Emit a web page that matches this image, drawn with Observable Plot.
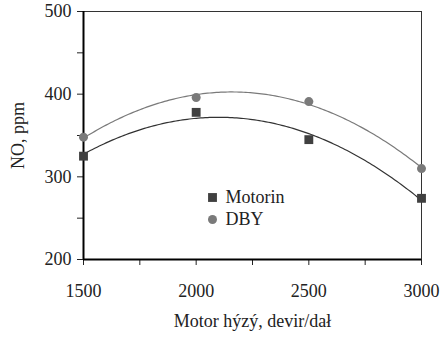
<!DOCTYPE html>
<html><head><meta charset="utf-8">
<script src="https://cdn.jsdelivr.net/npm/d3@7"></script>
<script src="https://cdn.jsdelivr.net/npm/@observablehq/plot@0.6"></script>
<style>
body{margin:0;background:#fff;}
</style></head>
<body><div id="wrap"></div>
<script>
const rpm = [1500, 2000, 2500, 3000];
const motorin = [325, 378, 345, 274];
const dby = [348, 396, 391, 310];
const xMajor = [1500, 2000, 2500, 3000];
const xMinor = [1750, 2250, 2750];
const yMajor = [200, 300, 400, 500];
const yMinor = [250, 350, 450];
const seriesNames = ["Motorin", "DBY"];
const cMot = "#404040", cDby = "#7a7a7a";
const serif = "Liberation Serif";

function quadFit(xs, ys) {
  const t = xs.map(x => (x - 2250) / 500);
  const S = k => d3.sum(t, v => v ** k);
  const T = k => d3.sum(t, (v, i) => v ** k * ys[i]);
  const A = [[S(0), S(1), S(2)], [S(1), S(2), S(3)], [S(2), S(3), S(4)]];
  const b = [T(0), T(1), T(2)];
  for (let i = 0; i < 3; i++) {
    for (let j = i + 1; j < 3; j++) {
      const f = A[j][i] / A[i][i];
      for (let k = i; k < 3; k++) A[j][k] -= f * A[i][k];
      b[j] -= f * b[i];
    }
  }
  const c = [0, 0, 0];
  for (let i = 2; i >= 0; i--) {
    let s = b[i];
    for (let k = i + 1; k < 3; k++) s -= A[i][k] * c[k];
    c[i] = s / A[i][i];
  }
  return x => { const u = (x - 2250) / 500; return c[0] + c[1] * u + c[2] * u * u; };
}
const fm = quadFit(rpm, motorin), fd = quadFit(rpm, dby);
const xs = d3.range(1500, 3000.1, 10);
const curveM = xs.map(x => ({x, y: fm(x)}));
const curveD = xs.map(x => ({x, y: fd(x)}));
const ptsM = rpm.map((x, i) => ({x, y: motorin[i]}));
const ptsD = rpm.map((x, i) => ({x, y: dby[i]}));

const legDx = 129, legDy = [186, 208];
const legend = [
  Plot.dot([0], {frameAnchor: "top-left", dx: legDx, dy: legDy[0], r: 5, symbol: "square", fill: cMot}),
  Plot.dot([0], {frameAnchor: "top-left", dx: legDx, dy: legDy[1], r: 4.5, symbol: "circle", fill: cDby}),
  Plot.text([seriesNames[0]], {frameAnchor: "top-left", text: d => d, dx: legDx + 13, dy: legDy[0], textAnchor: "start", lineAnchor: "middle", fontSize: 18, fontFamily: serif, fill: "#222"}),
  Plot.text([seriesNames[1]], {frameAnchor: "top-left", text: d => d, dx: legDx + 13, dy: legDy[1], textAnchor: "start", lineAnchor: "middle", fontSize: 18, fontFamily: serif, fill: "#222"})
];

const chart = Plot.plot({
  width: 447, height: 338,
  marginLeft: 83, marginRight: 26, marginTop: 11, marginBottom: 79,
  style: {fontFamily: serif, fontSize: "18px", color: "#222", background: "#fff"},
  x: {domain: [1500, 3000]},
  y: {domain: [200, 500]},
  marks: [
    Plot.frame({stroke: "#333", strokeWidth: 1}),
    Plot.axisX({ticks: xMajor, tickSize: 6, tickPadding: 19, tickFormat: d => String(d), fontSize: 18, fontFamily: serif,
      label: "Motor hýzý, devir/dał", labelAnchor: "center", labelArrow: "none", labelOffset: 67}),
    Plot.axisX({ticks: xMinor, tickSize: 6, tickFormat: () => "", label: null}),
    Plot.axisY({ticks: yMajor, tickSize: 6, tickPadding: 6, tickFormat: d => String(d), fontSize: 18, fontFamily: serif,
      label: "NO, ppm", labelAnchor: "center", labelArrow: "none", labelOffset: 72}),
    Plot.axisY({ticks: yMinor, tickSize: 6, tickFormat: () => "", label: null}),
    Plot.ruleX([1500], {stroke: "#000", strokeWidth: 2}),
    Plot.ruleY([200], {stroke: "#000", strokeWidth: 2}),
    Plot.line(curveD, {x: "x", y: "y", stroke: cDby, strokeWidth: 1.2}),
    Plot.line(curveM, {x: "x", y: "y", stroke: "#333", strokeWidth: 1.2}),
    Plot.dot(ptsD, {x: "x", y: "y", r: 4.5, fill: cDby, symbol: "circle"}),
    Plot.dot(ptsM, {x: "x", y: "y", r: 5, fill: cMot, symbol: "square"}),
    ...legend
  ]
});
document.getElementById("wrap").appendChild(chart);
</script></body></html>
